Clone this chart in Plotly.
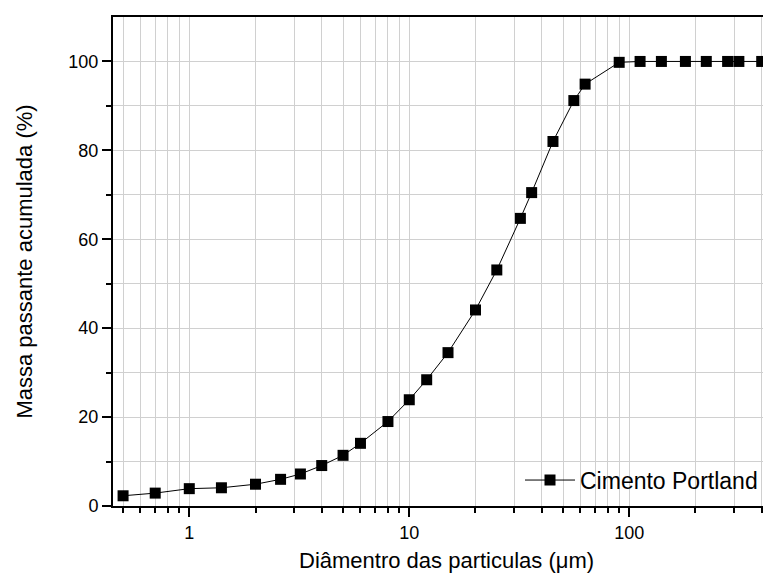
import numpy as np
import plotly.graph_objects as go

# Particle size distribution of Portland cement
diametro_um = [0.5, 0.7, 1, 1.4, 2, 2.6, 3.2, 4, 5, 6, 8, 10, 12, 15, 20, 25,
               32, 36, 45, 56, 63, 90, 112, 140, 180, 224, 280, 315, 400]
passante_pct = [2.3, 2.9, 3.9, 4.1, 4.9, 6.0, 7.2, 9.1, 11.4, 14.1, 19.0, 23.9,
                28.4, 34.5, 44.1, 53.1, 64.7, 70.5, 82.0, 91.2, 94.9, 99.8,
                100, 100, 100, 100, 100, 100, 100]

serie_nome = "Cimento Portland"
x_titulo = "Diâmentro das particulas (μm)"
y_titulo = "Massa passante acumulada (%)"

FONT = "Liberation Sans, Arial, sans-serif"
GRID = "#d0d0d0"

# minor positions on the log axis (2..9 of each decade)
minor_x = [m * 10.0 ** d for d in (-1, 0, 1, 2) for m in range(2, 10)]
minor_x = [v for v in minor_x if 0.45 <= v <= 406]

fig = go.Figure()
fig.add_trace(go.Scatter(
    x=diametro_um, y=passante_pct, name=serie_nome,
    mode="lines+markers",
    line=dict(color="black", width=1),
    marker=dict(symbol="square", size=11, color="black", line=dict(width=0)),
))

fig.update_layout(
    width=763, height=578,
    margin=dict(l=113, r=0, t=17, b=72),
    paper_bgcolor="white", plot_bgcolor="white",
    font=dict(family=FONT, color="black", size=18),
    showlegend=True,
    legend=dict(
        x=1, y=0.053, xanchor="right", yanchor="middle",
        bgcolor="rgba(0,0,0,0)", font=dict(size=23, family=FONT),
        itemwidth=50,
    ),
    xaxis=dict(
        type="log",
        range=[np.log10(0.45), np.log10(405.5)],
        tickvals=[1, 10, 100], ticktext=["1", "10", "100"],
        ticks="outside", ticklen=9, tickwidth=2, tickcolor="black",
        showline=True, linecolor="black", linewidth=2, mirror=True,
        showgrid=True, gridcolor=GRID, gridwidth=1,
        zeroline=False,
        tickfont=dict(size=18),
        minor=dict(tickvals=minor_x, ticks="outside", ticklen=5,
                   tickwidth=1.5, tickcolor="black",
                   showgrid=True, gridcolor=GRID, gridwidth=1),
    ),
    yaxis=dict(
        range=[0, 110],
        tickvals=[0, 20, 40, 60, 80, 100],
        ticks="outside", ticklen=9, tickwidth=2, tickcolor="black",
        showline=True, linecolor="black", linewidth=2,
        showgrid=True, gridcolor=GRID, gridwidth=1,
        zeroline=False,
        tickfont=dict(size=18),
        minor=dict(tickvals=[10, 30, 50, 70, 90], ticks="outside", ticklen=5,
                   tickwidth=1.5, tickcolor="black",
                   showgrid=True, gridcolor=GRID, gridwidth=1),
        title=dict(text=y_titulo, font=dict(size=22), standoff=30),
    ),
    annotations=[dict(
        text=x_titulo, xref="paper", yref="paper",
        x=0.513, y=-0.112, xanchor="center", yanchor="middle",
        showarrow=False, font=dict(size=22, family=FONT),
    )],
)

fig.write_html("out.html")
